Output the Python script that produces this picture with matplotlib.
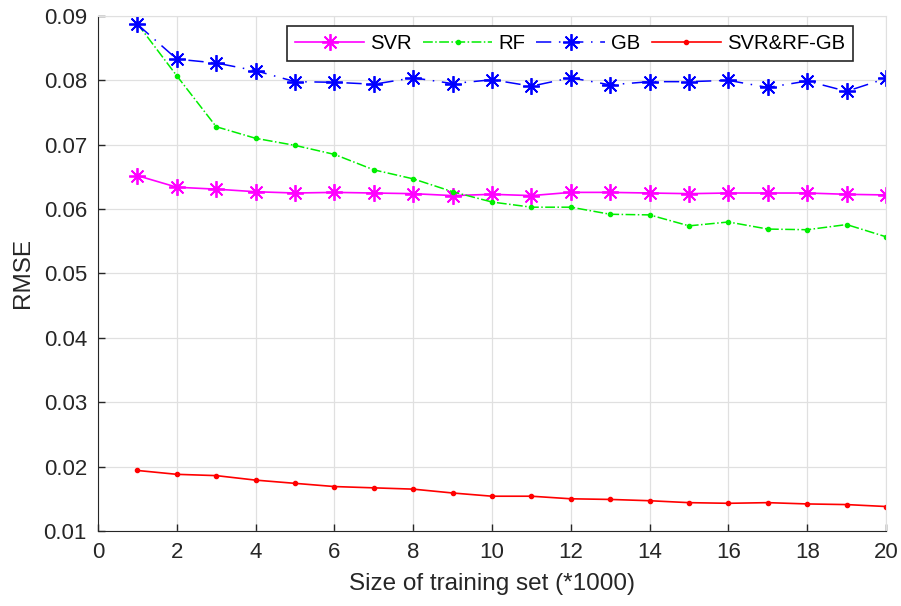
import matplotlib.pyplot as plt
plt.rcParams.update({"font.family": ["Liberation Sans", "DejaVu Sans"], "font.size": 16})

# training set size (*1000)
sizes = list(range(1, 21))

svr = [0.0652, 0.0634, 0.0631, 0.0627, 0.0625, 0.0626, 0.0625, 0.0624, 0.0621, 0.0623,
       0.0621, 0.0626, 0.0626, 0.0625, 0.0624, 0.0625, 0.0625, 0.0625, 0.0623, 0.0622]
rf = [0.0888, 0.0807, 0.0728, 0.0710, 0.0699, 0.0685, 0.0661, 0.0647, 0.0627, 0.0611,
      0.0603, 0.0603, 0.0592, 0.0591, 0.0574, 0.0580, 0.0569, 0.0568, 0.0576, 0.0557]
gb = [0.0887, 0.0833, 0.0827, 0.0815, 0.0798, 0.0797, 0.0794, 0.0804, 0.0795, 0.0801,
      0.0791, 0.0804, 0.0793, 0.0798, 0.0798, 0.0800, 0.0789, 0.0799, 0.0783, 0.0803]
hybrid = [0.0194, 0.0188, 0.0186, 0.0179, 0.0174, 0.0169, 0.0167, 0.0165, 0.0159, 0.0154,
          0.0154, 0.0150, 0.0149, 0.0147, 0.0144, 0.0143, 0.0144, 0.0142, 0.0141, 0.0138]

star = (8, 2, 0)  # matlab style asterisk

fig = plt.figure(figsize=(9.01, 6.06), dpi=100)
ax = fig.add_axes([0.1088, 0.1238, 0.8746, 0.8498])

ax.plot(sizes, svr, '-', color='#ff00ff', marker=star, markersize=12, mew=1.3, lw=1.2, label='SVR')
ax.plot(sizes, rf, '-.', color='#00ee00', marker='.', markersize=6, lw=1.1, label='RF')
ax.plot(sizes, gb, color='#0000ff', marker=star, markersize=12, mew=1.3, lw=1.1,
        dashes=(10, 5, 1, 5), label='GB')
ax.plot(sizes, hybrid, '-', color='#ff0000', marker='.', markersize=6, lw=1.2, label='SVR&RF-GB')

ax.set_xlim(0, 20)
ax.set_ylim(0.01, 0.09)
ax.set_xticks(range(0, 21, 2))
ax.set_yticks([0.01, 0.02, 0.03, 0.04, 0.05, 0.06, 0.07, 0.08, 0.09])
ax.set_yticklabels(['0.01', '0.02', '0.03', '0.04', '0.05', '0.06', '0.07', '0.08', '0.09'])
ax.grid(True, color='#e0e0e0', lw=0.9)
ax.set_axisbelow(True)
ax.tick_params(direction='in', length=5, width=1, color='#262626', labelcolor='#262626',
               pad=8, top=False, right=False)
for s in ['left', 'bottom']:
    ax.spines[s].set_color('#262626')
ax.spines['top'].set_color('#e0e0e0')
ax.spines['right'].set_color('#e0e0e0')

ax.set_xlabel('Size of training set (*1000)', fontsize=17.5, color='#262626', labelpad=7)
ax.set_ylabel('RMSE', fontsize=17.5, color='#262626', labelpad=7)

leg = ax.legend(loc='upper right', ncol=4, bbox_to_anchor=(0.958, 0.981), borderaxespad=0,
                fancybox=False, edgecolor='#262626', framealpha=1, handlelength=3.4,
                columnspacing=0.55, handletextpad=0.3, fontsize=14.6, borderpad=0.4)
leg.get_frame().set_linewidth(1.2)

fig.savefig('out.png', dpi=100)
